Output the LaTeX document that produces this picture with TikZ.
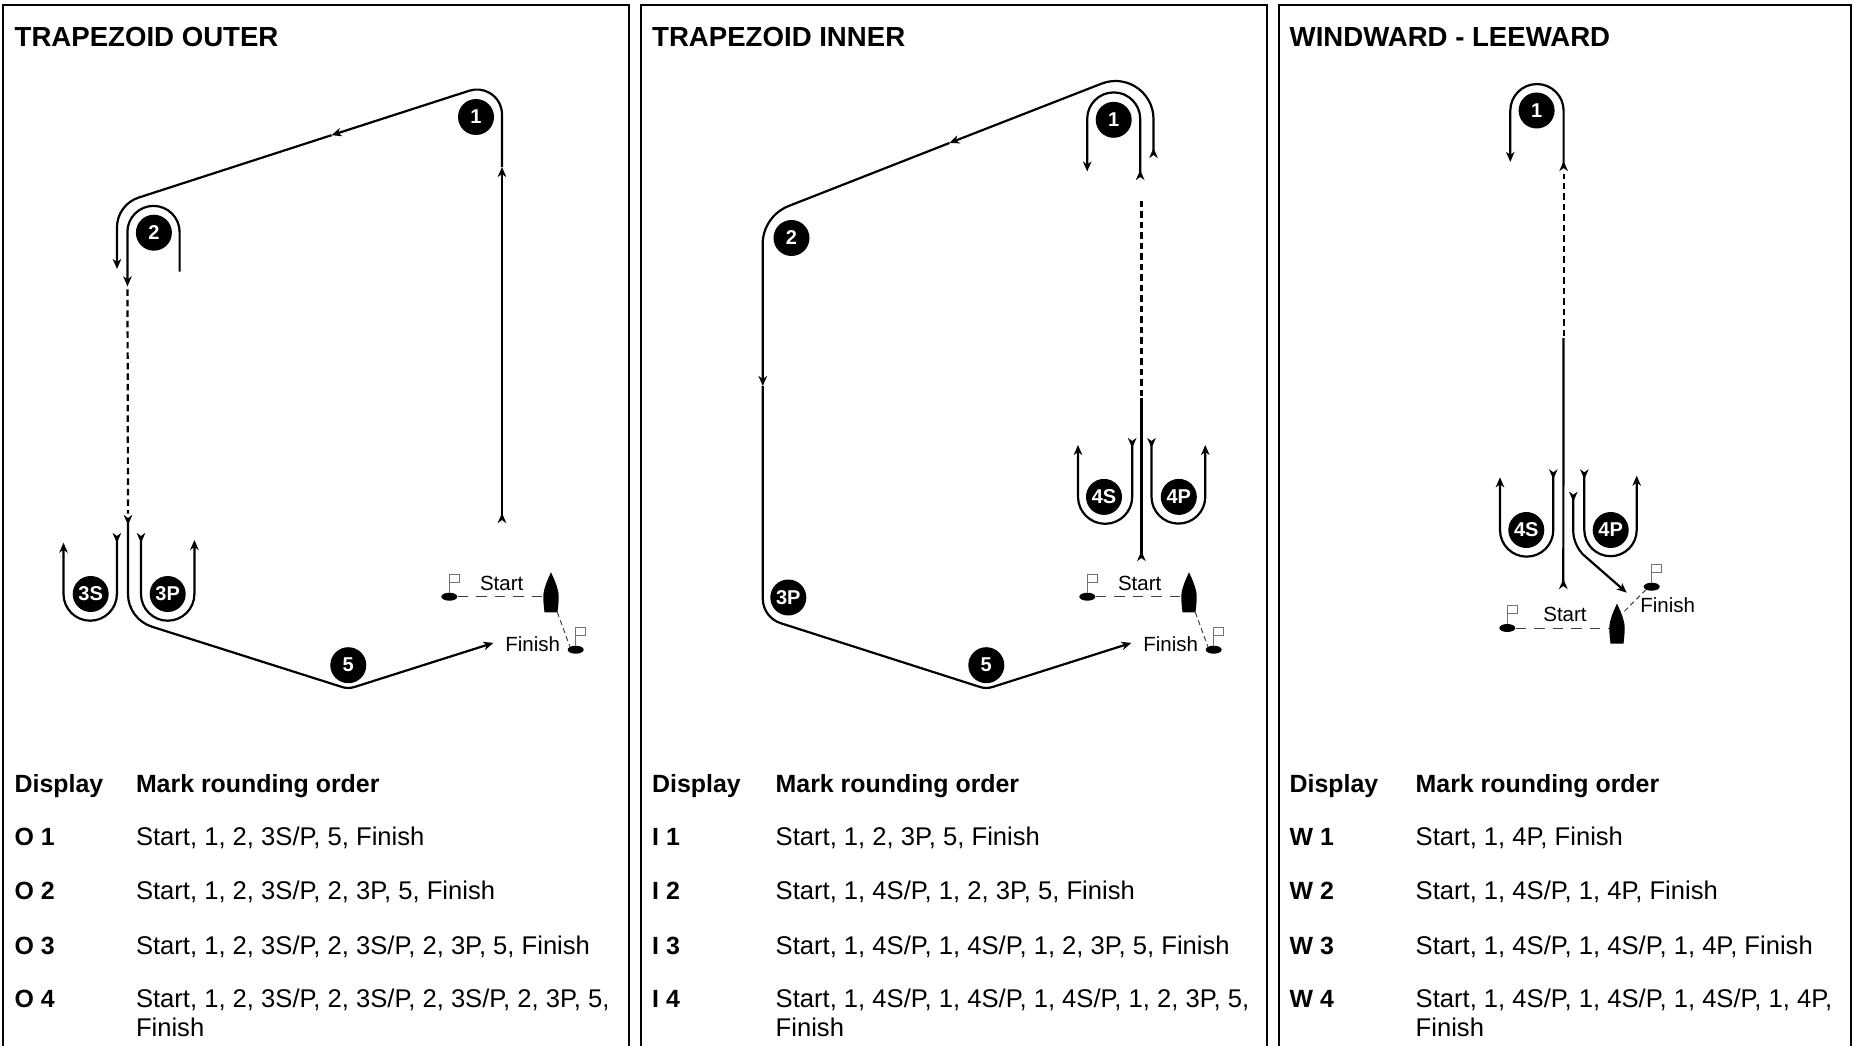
\documentclass[tikz,border=0pt]{standalone}
\usepackage{fontspec}
\setmainfont{Liberation Sans}
\usetikzlibrary{arrows.meta,shapes.geometric}

\tikzset{>={Stealth[length=10pt,width=8.5pt,inset=3pt]},
	rev/.tip={Stealth[length=10pt,width=8.5pt,inset=3pt,reversed]}}

\newcommand{\flagat}[2]{
	\node [buoy] (#1) at (#2) {};
	\draw [flagline] (#1.north) -- ++(0,-18) -- ++(10,0) -- ++(0,7.7) -- ++(-10,0);
}
\newcommand{\boatat}[2]{
	\coordinate (#1) at (#2);
	\coordinate (#1s) at ([shift={(6.3,15.6)}]#1);
	\fill [shift={(#1)}] (0,-24.4) .. controls (3,-18) and (7.7,-8) .. (7.7,0)
		.. controls (7.7,6) and (7,11) .. (6.5,15.6) -- (-6.5,15.6)
		.. controls (-7,11) and (-7.7,6) .. (-7.7,0)
		.. controls (-7.7,-8) and (-3,-18) .. (0,-24.4) -- cycle;
}

\begin{document}
\begin{tikzpicture}[x=1pt,y=1pt,yscale=-1,
	panel/.style={line width=2pt},
	track/.style={line width=2.2pt},
	dashtrack/.style={line width=2.2pt,dash pattern=on 6.5pt off 4pt},
	startline/.style={line width=1pt,draw=black!75,dash pattern=on 10.5pt off 8pt},
	finishline/.style={line width=1pt,draw=black!75,dash pattern=on 5pt off 3.5pt},
	flagline/.style={line width=0.8pt,draw=black!55},
	buoy/.style={draw=none,fill=black,ellipse,minimum width=16pt,minimum height=8pt,inner sep=0pt},
	roundmark/.style={circle,fill=black,text=white,minimum size=36pt,inner sep=0pt,
		font=\fontsize{20}{22}\selectfont\bfseries},
	title/.style={anchor=base west,inner sep=0pt,font=\fontsize{27.6}{30}\selectfont\bfseries},
	headrow/.style={anchor=base west,inner sep=0pt,font=\fontsize{24.9}{28}\selectfont\bfseries},
	row/.style={anchor=base west,inner sep=0pt,font=\fontsize{25.6}{28}\selectfont},
	small/.style={inner sep=0pt,font=\fontsize{20.5}{22}\selectfont}]
	\useasboundingbox (0,0) rectangle (1853,1046);

	% frames
	\draw [panel] (3,1048) -- (3,5) -- (629,5) -- (629,1048);
	\draw [panel] (641,1048) -- (641,5) -- (1267,5) -- (1267,1048);
	\draw [panel] (1279,1048) -- (1279,5) -- (1851,5) -- (1851,1048);

	% trapezoid outer
	\node [title] (otitle) at (14.5,47) {TRAPEZOID OUTER};
	\node [roundmark] (o1) at (476,117) {1};
	\node [roundmark] (o2) at (153.9,232.7) {2};
	\node [roundmark] (o3s) at (90.7,594) {3S};
	\node [roundmark] (o3p) at (167.7,594) {3P};
	\node [roundmark] (o5) at (348.3,665.2) {5};
	\coordinate (oa0) at (502,523);
	\coordinate (oa1) at (502,167);
	\coordinate (oa2) at (331.5,135.2);
	\coordinate (oa3) at (117,269);
	\coordinate (ob0) at (179.6,271.7);
	\coordinate (ob1) at (127.5,286.4);
	\coordinate (ob2) at (127.5,289.4);
	\coordinate (ob3) at (128,513.7);
	\coordinate (oc0) at (128,515);
	\coordinate (oc1) at (493.4,642.9);
	\draw [track,rev->] (oa0) -- (oa1);
	\draw [track,->] (oa1) -- (502,114.5) arc[start angle=0,end angle=-108,radius=25] -- (oa2);
	\draw [track,->] (oa2) -- (138.6,197.6) arc[start angle=-108,end angle=-180,radius=31.3] -- (oa3);
	\draw [track,->] (ob0) -- (179.6,232) arc[start angle=0,end angle=-180,radius=26.1] -- (ob1);
	\draw [dashtrack] (ob2) -- (ob3);
	\draw [track,rev->] (oc0) -- (128,594) arc[start angle=180,end angle=108,radius=34.3]
		-- (342.1,687) arc[start angle=108,end angle=72,radius=20] -- (oc1);
	\draw [track,rev->] (116.9,533) -- (116.9,594) arc[start angle=0,end angle=180,radius=26.7] -- (63.5,542.7);
	\draw [track,rev->] (141,533) -- (141,594) arc[start angle=180,end angle=0,radius=26.7] -- (194.4,540);
	\flagat{ofs}{449.3,596.7}
	\flagat{off}{575.7,649.7}
	\draw [startline] (ofs.east) -- (551,596.7);
	\boatat{ob}{551,596.7}
	\draw [finishline] (obs) -- (off.north west);
	\node [small] (ostart) at (501.7,583.3) {Start};
	\node [small] (ofinish) at (532.7,644) {Finish};
	\node [headrow] (od) at (14.5,792.7) {Display};
	\node [headrow] (om) at (135.8,792.7) {Mark rounding order};
	\node [headrow] (od1) at (14.5,845) {O 1};
	\node [row] (om1) at (135.8,845) {Start, 1, 2, 3S/P, 5, Finish};
	\node [headrow] (od2) at (14.5,899.5) {O 2};
	\node [row] (om2) at (135.8,899.5) {Start, 1, 2, 3S/P, 2, 3P, 5, Finish};
	\node [headrow] (od3) at (14.5,954.2) {O 3};
	\node [row] (om3) at (135.8,954.2) {Start, 1, 2, 3S/P, 2, 3S/P, 2, 3P, 5, Finish};
	\node [headrow] (od4) at (14.5,1007.7) {O 4};
	\node [row] (om4) at (135.8,1007.7) {Start, 1, 2, 3S/P, 2, 3S/P, 2, 3S/P, 2, 3P, 5,};
	\node [row] (om5) at (135.8,1036) {Finish};

	% trapezoid inner
	\node [title] (ititle) at (652,47) {TRAPEZOID INNER};
	\node [roundmark] (i1) at (1113.7,119.8) {1};
	\node [roundmark] (i2) at (791.5,238) {2};
	\node [roundmark] (i3p) at (788.3,597.5) {3P};
	\node [roundmark] (i4s) at (1104,496.9) {4S};
	\node [roundmark] (i4p) at (1178.8,496.9) {4P};
	\node [roundmark] (i5) at (986.3,665.2) {5};
	\coordinate (ia0) at (1153.5,158);
	\coordinate (ia1) at (949.4,143);
	\coordinate (ia2) at (762.8,386);
	\coordinate (ia3) at (1131.4,642.9);
	\coordinate (ib0) at (1141.4,561);
	\coordinate (ib1) at (1141.4,398);
	\coordinate (ib2) at (1141.4,396);
	\coordinate (ib3) at (1141.4,199);
	\coordinate (ic0) at (1140.2,180);
	\coordinate (ic1) at (1087.2,171.5);
	\draw [track,rev->] (ia0) -- (1153.5,119) arc[start angle=0,end angle=-111.4,radius=38] -- (ia1);
	\draw [track,->] (ia1) -- (788.7,206) arc[start angle=-111.4,end angle=-180,radius=41] -- (ia2);
	\draw [track,->] (ia2) -- (762.8,598.7) arc[start angle=180,end angle=108,radius=25.7]
		-- (980.1,687) arc[start angle=108,end angle=72,radius=20] -- (ia3);
	\draw [track,rev-] (ib0) -- (ib1);
	\draw [dashtrack] (ib2) -- (ib3);
	\draw [track,rev->] (ic0) -- (1140.2,118.9) arc[start angle=0,end angle=-180,radius=26.5] -- (ic1);
	\draw [track,rev->] (1132.2,438) -- (1132.2,496.7) arc[start angle=0,end angle=180,radius=27.1] -- (1078,445);
	\draw [track,rev->] (1151.5,438) -- (1151.5,496.7) arc[start angle=180,end angle=0,radius=26.9] -- (1205.3,445);
	\flagat{ifs}{1087.3,596.7}
	\flagat{iff}{1213.7,649.7}
	\draw [startline] (ifs.east) -- (1189,596.7);
	\boatat{ib}{1189,596.7}
	\draw [finishline] (ibs) -- (iff.north west);
	\node [small] (istart) at (1139.7,583.3) {Start};
	\node [small] (ifinish) at (1170.7,644) {Finish};
	\node [headrow] (jd) at (652,792.7) {Display};
	\node [headrow] (jm) at (775.5,792.7) {Mark rounding order};
	\node [headrow] (jd1) at (652,845) {I 1};
	\node [row] (jm1) at (775.5,845) {Start, 1, 2, 3P, 5, Finish};
	\node [headrow] (jd2) at (652,899.5) {I 2};
	\node [row] (jm2) at (775.5,899.5) {Start, 1, 4S/P, 1, 2, 3P, 5, Finish};
	\node [headrow] (jd3) at (652,954.2) {I 3};
	\node [row] (jm3) at (775.5,954.2) {Start, 1, 4S/P, 1, 4S/P, 1, 2, 3P, 5, Finish};
	\node [headrow] (jd4) at (652,1007.7) {I 4};
	\node [row] (jm4) at (775.5,1007.7) {Start, 1, 4S/P, 1, 4S/P, 1, 4S/P, 1, 2, 3P, 5,};
	\node [row] (jm5) at (775.5,1036) {Finish};

	% windward - leeward
	\node [title] (wtitle) at (1289.5,47) {WINDWARD - LEEWARD};
	\node [roundmark] (w1) at (1536.6,110.5) {1};
	\node [roundmark] (w4s) at (1526.3,530) {4S};
	\node [roundmark] (w4p) at (1610.7,530) {4P};
	\coordinate (wa0) at (1563.3,589);
	\coordinate (wa1) at (1563.5,338);
	\coordinate (wa2) at (1563.6,336);
	\coordinate (wa3) at (1563.6,174);
	\coordinate (wb0) at (1563.6,171);
	\coordinate (wb1) at (1510.3,161.9);
	\coordinate (wc0) at (1573.3,491.7);
	\coordinate (wc1) at (1626.7,592.7);
	\draw [track,rev-] (wa0) -- (wa1);
	\draw [dashtrack] (wa2) -- (wa3);
	\draw [track,rev->] (wb0) -- (1563.6,110.7) arc[start angle=0,end angle=-180,radius=26.65] -- (wb1);
	\draw [track,rev->,rounded corners=14pt] (wc0) -- (1573.3,546) -- (wc1);
	\draw [track,rev->] (1553.3,469.3) -- (1553.3,530) arc[start angle=0,end angle=180,radius=26.65] -- (1500,477.3);
	\draw [track,rev->] (1584.3,469.3) -- (1584.3,530) arc[start angle=180,end angle=0,radius=26.2] -- (1636.7,475.7);
	\flagat{wfs}{1507.3,628}
	\flagat{wff}{1651.7,586.7}
	\draw [startline] (wfs.east) -- (1617,628);
	\boatat{wb}{1617,628}
	\draw [finishline] (wff.south west) -- (1624,611.7);
	\node [small] (wstart) at (1565,614) {Start};
	\node [small] (wfinish) at (1667.7,605) {Finish};
	\node [headrow] (vd) at (1289.5,792.7) {Display};
	\node [headrow] (vm) at (1415.5,792.7) {Mark rounding order};
	\node [headrow] (vd1) at (1289.5,845) {W 1};
	\node [row] (vm1) at (1415.5,845) {Start, 1, 4P, Finish};
	\node [headrow] (vd2) at (1289.5,899.5) {W 2};
	\node [row] (vm2) at (1415.5,899.5) {Start, 1, 4S/P, 1, 4P, Finish};
	\node [headrow] (vd3) at (1289.5,954.2) {W 3};
	\node [row] (vm3) at (1415.5,954.2) {Start, 1, 4S/P, 1, 4S/P, 1, 4P, Finish};
	\node [headrow] (vd4) at (1289.5,1007.7) {W 4};
	\node [row] (vm4) at (1415.5,1007.7) {Start, 1, 4S/P, 1, 4S/P, 1, 4S/P, 1, 4P,};
	\node [row] (vm5) at (1415.5,1036) {Finish};
\end{tikzpicture}
\end{document}
